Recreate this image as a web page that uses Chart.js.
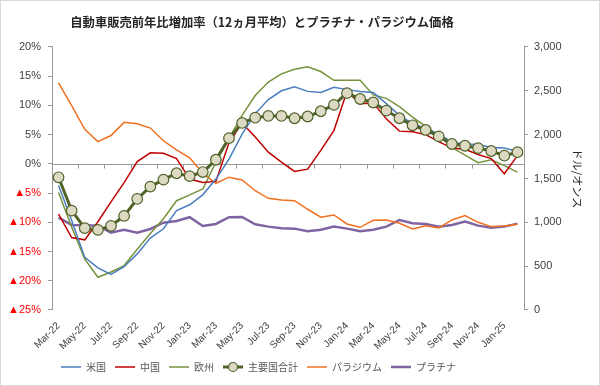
<!doctype html>
<html lang="ja"><head>
<meta charset="utf-8"/>
<title>自動車販売前年比増加率とプラチナ・パラジウム価格</title>
<script src="https://cdn.jsdelivr.net/npm/chart.js@4.4.6/dist/chart.umd.min.js"></script>
<style>
  html,body{margin:0;padding:0;background:#fff}
  #c{display:block}
</style></head>
<body>
<canvas id="c" width="600" height="386"></canvas>
<script>
// months Mar-22 .. Feb-25 (labels shown every other month)
const months=['Mar-22','Apr-22','May-22','Jun-22','Jul-22','Aug-22','Sep-22','Oct-22','Nov-22','Dec-22',
  'Jan-23','Feb-23','Mar-23','Apr-23','May-23','Jun-23','Jul-23','Aug-23','Sep-23','Oct-23','Nov-23','Dec-23',
  'Jan-24','Feb-24','Mar-24','Apr-24','May-24','Jun-24','Jul-24','Aug-24','Sep-24','Oct-24','Nov-24','Dec-24',
  'Jan-25','Feb-25'];

// y/y growth, 12-month average (%)
const usa=[-3.7,-9.7,-16.0,-17.8,-18.9,-17.6,-15.4,-12.7,-11.1,-8.0,-7.0,-5.3,-2.6,0.8,5.1,8.6,11.0,12.5,13.2,12.4,12.2,13.1,12.7,12.4,
  12.2,10.3,8.3,6.9,6.0,5.1,3.7,3.4,3.3,2.8,2.7,2.1];
const china=[-8.6,-12.6,-13.0,-9.9,-6.5,-3.2,0.4,1.9,1.8,0.9,-2.6,-3.2,-3.0,3.6,7.0,4.6,2.0,0.3,-1.3,-0.9,2.3,5.7,12.4,10.3,
  10.4,7.7,5.6,5.5,5.0,3.8,2.7,2.5,1.6,0.9,-1.7,1.4];
const europe=[-4.9,-10.8,-16.3,-19.4,-18.5,-17.4,-14.6,-11.9,-9.4,-6.3,-5.3,-4.3,0.3,4.4,8.3,11.7,14.0,15.4,16.2,16.6,15.8,14.3,14.3,14.3,
  11.8,11.2,9.8,8.0,6.4,4.9,2.8,1.5,0.2,0.7,-0.3,-1.4];
const total=[-2.3,-8.0,-11.0,-11.3,-10.6,-8.9,-6.0,-3.9,-2.7,-1.6,-2.1,-1.4,0.7,4.4,7.0,7.9,8.2,8.2,7.8,8.1,9.0,10.1,12.1,11.1,
  10.5,9.1,7.8,6.6,5.8,4.7,3.4,3.1,2.7,2.2,1.4,2.0];

// metal prices (USD/oz)
const palladium=[2590,2330,2060,1920,1990,2140,2125,2075,1930,1825,1735,1560,1445,1515,1483,1360,1274,1255,1247,1149,1058,1084,981,943,
  1023,1027,989,924,962,936,1027,1076,1000,951,958,978];
const platinum=[1053,970,966,962,882,916,882,924,996,1015,1058,958,981,1058,1061,978,951,932,928,898,916,951,928,898,
  916,951,1027,989,981,951,970,1008,962,939,951,985];

const pctTicks={min:-25,max:20,step:5};
const usdTicks={min:0,max:3000,step:500};

const FONT="'Liberation Sans', Arial, 'Noto Sans CJK JP', sans-serif";
const JP="'Noto Sans CJK JP', 'Liberation Sans', sans-serif";
const AXIS='#999';

function line(label,data,color,width,axis,order){
  return {label,data,borderColor:color,backgroundColor:color,borderWidth:width,yAxisID:axis,
    pointRadius:0,pointHoverRadius:0,tension:0,order};
}

// legend swatch for the marker series: thick line with a circle
const comboSwatch=(()=>{
  const c=document.createElement('canvas');c.width=20;c.height=12;
  const g=c.getContext('2d');
  g.strokeStyle='#4f6228';g.lineWidth=3;g.beginPath();g.moveTo(0,6);g.lineTo(20,6);g.stroke();
  g.beginPath();g.arc(10,6,4.5,0,Math.PI*2);g.fillStyle='#ddd9c3';g.fill();
  g.lineWidth=1.2;g.stroke();
  return c;
})();

// 0% line with tick marks every 2 months, outer frame, title nudge
const decor={
  id:'decor',
  afterLayout(chart){
    const t=chart.titleBlock;
    if(t){t.left=0;t.right=chart.chartArea.right;}
  },
  beforeDatasetsDraw(chart){
    const {ctx,chartArea:a,scales:{y}}=chart;
    const y0=Math.round(y.getPixelForValue(0))+0.5;
    const step=(a.right-a.left)/months.length;
    ctx.save();ctx.strokeStyle=AXIS;ctx.lineWidth=1;ctx.beginPath();
    ctx.moveTo(a.left,y0);ctx.lineTo(a.right,y0);
    for(let k=2;k<=months.length;k+=2){
      const px=Math.round(a.left+k*step)+0.5;
      ctx.moveTo(px,y0);ctx.lineTo(px,y0+4);
    }
    ctx.stroke();ctx.restore();
  },
  afterDraw(chart){
    const {ctx,width,height}=chart;
    ctx.save();ctx.strokeStyle='#d9d9d9';ctx.lineWidth=1;
    ctx.strokeRect(0.5,0.5,width-1,height-1);ctx.restore();
  }
};

new Chart(document.getElementById('c'),{
  type:'line',
  data:{labels:months,datasets:[
    line('米国',usa,'#4a7ebf',1.5,'y',2),
    line('中国',china,'#c00000',1.5,'y',2),
    line('欧州',europe,'#77933c',1.5,'y',2),
    Object.assign(line('主要国合計',total,'#4f6228',3,'y',0),
      {pointRadius:5.3,pointHoverRadius:5.3,pointBackgroundColor:'#ddd9c3',pointBorderColor:'#4f6228',pointBorderWidth:1.2}),
    line('パラジウム',palladium,'#f07020',1.5,'y1',3),
    line('プラチナ',platinum,'#8064a2',2.5,'y1',3)
  ]},
  options:{
    responsive:false,animation:false,
    layout:{padding:{top:0,right:16,bottom:4,left:0}},
    plugins:{
      title:{display:true,text:'自動車販売前年比増加率（12ヵ月平均）とプラチナ・パラジウム価格',
        font:{family:JP,size:12.3,weight:'bold'},color:'#262626',padding:{top:15,bottom:17.2}},
      legend:{position:'bottom',fullSize:false,align:'start',
        labels:{usePointStyle:true,pointStyleWidth:20,padding:9,color:'#595959',
          font:{family:JP,size:10},
          generateLabels(chart){
            const items=Chart.defaults.plugins.legend.labels.generateLabels(chart);
            items.forEach(it=>{it.pointStyle=it.datasetIndex===3?comboSwatch:'line';});
            return items;
          },
          sort:(a,b)=>a.datasetIndex-b.datasetIndex}},
      tooltip:{enabled:false}
    },
    scales:{
      x:{offset:true,grid:{display:false},border:{display:false},
        afterFit(s){s.height=43;},
        ticks:{autoSkip:false,maxRotation:45,minRotation:45,padding:2,color:'#404040',font:{family:FONT,size:10},
          callback(v,i){return i%2===0?this.getLabelForValue(v):'';}}},
      y:{position:'left',min:pctTicks.min,max:pctTicks.max,
        afterFit(s){s.width=52;},
        grid:{drawOnChartArea:false,drawTicks:true,tickLength:4,color:AXIS},
        border:{display:true,color:AXIS},
        ticks:{stepSize:pctTicks.step,padding:7,font:{family:FONT,size:11},
          color:c=>c.tick&&c.tick.value<0?'#ff0000':'#404040',
          callback:v=>v<0?'▲'+(-v)+'%':v+'%'}},
      y1:{position:'right',min:usdTicks.min,max:usdTicks.max,
        afterFit(s){s.width=60;},
        grid:{drawOnChartArea:false,drawTicks:true,tickLength:4,color:AXIS},
        border:{display:true,color:AXIS},
        title:{display:true,text:'ドル/オンス',color:'#262626',font:{family:JP,size:11},padding:{top:0,bottom:0}},
        ticks:{stepSize:usdTicks.step,padding:6,color:'#404040',font:{family:FONT,size:11},
          callback:v=>v.toLocaleString('en-US')}}
    }
  },
  plugins:[decor]
});
</script>
</body></html>
